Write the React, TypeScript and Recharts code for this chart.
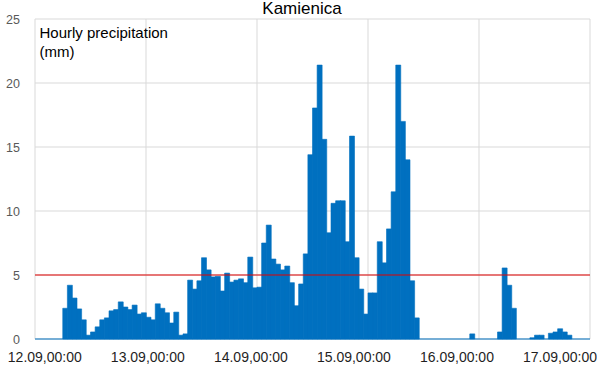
import React from 'react';
import { BarChart, Bar, XAxis, YAxis, CartesianGrid, ReferenceLine } from 'recharts';

// Hourly precipitation (mm), one value per hour starting 12.09 00:00
const precipitation = [
  0, 0, 0, 0, 0, 0, 2.4, 4.2, 3.2, 2.35, 1.5, 0.3,
  0.55, 0.95, 1.5, 1.65, 2.2, 2.3, 2.9, 2.5, 2.3, 2.65, 1.95, 2.05,
  1.7, 1.5, 2.75, 2.4, 2.05, 1.25, 2.1, 0.3, 0.4, 4.6, 3.9, 4.55,
  6.35, 5.4, 4.85, 4.9, 3.75, 5.15, 4.45, 4.6, 4.7, 4.4, 6.4, 4.0,
  4.05, 7.5, 8.9, 6.25, 5.85, 5.4, 5.7, 4.4, 2.6, 4.3, 6.65, 14.4,
  18.05, 21.4, 15.6, 8.3, 10.6, 10.8, 10.8, 7.6, 15.85, 6.35, 3.9, 1.95,
  3.6, 3.6, 7.6, 5.95, 8.6, 11.5, 21.4, 17.0, 14.0, 4.55, 1.65, 0,
  0, 0, 0, 0, 0, 0, 0, 0, 0, 0, 0.4, 0,
  0, 0, 0, 0, 0.55, 5.55, 4.2, 2.4, 0, 0, 0, 0.1,
  0.3, 0.3, 0, 0.45, 0.55, 0.8, 0.55, 0.3, 0, 0, 0, 0,
];

const dayTicks = [0, 24, 48, 72, 96, 120];
const dayLabels = ['12.09,00:00', '13.09,00:00', '14.09,00:00', '15.09,00:00', '16.09,00:00', '17.09,00:00'];
const yTicks = [0, 5, 10, 15, 20, 25];
const threshold = 5;
const chartTitle = 'Kamienica';
const yTitleLines = ['Hourly precipitation', '(mm)'];

const data = precipitation.map((value, i) => ({ hour: i + 0.5, value }));

const XTick = (props: any) => {
  const { x, payload } = props;
  const i = dayTicks.indexOf(payload.value);
  return (
    <text
      x={x + 9.8 - 7.96 * i}
      y={362}
      textAnchor="middle"
      fontFamily="Liberation Sans, Arial, sans-serif"
      fontSize={14}
      fill="#1f1f1f"
    >
      {dayLabels[i]}
    </text>
  );
};

const YTick = (props: any) => {
  const { y, payload } = props;
  return (
    <text
      x={20}
      y={y}
      dy="0.36em"
      textAnchor="end"
      fontFamily="Liberation Sans, Arial, sans-serif"
      fontSize={12.5}
      fill="#595959"
    >
      {payload.value}
    </text>
  );
};

export default function App() {
  return (
    <div style={{ position: 'absolute', left: 0, top: 0, width: 597, height: 368, background: '#fff' }}>
      <BarChart
        width={597}
        height={368}
        data={data}
        margin={{ top: 19, right: 7, bottom: 0, left: 0 }}
        barCategoryGap={0}
        barGap={0}
      >
        <CartesianGrid stroke="#d9d9d9" />
        <XAxis
          type="number"
          dataKey="hour"
          domain={[0, 120]}
          ticks={dayTicks}
          interval={0}
          tick={<XTick />}
          tickLine={false}
          axisLine={{ stroke: '#0070c0' }}
          height={29}
          allowDataOverflow
        />
        <YAxis
          domain={[0, 25]}
          ticks={yTicks}
          interval={0}
          width={35}
          tick={<YTick />}
          tickLine={false}
          axisLine={false}
        />
        <Bar dataKey="value" fill="#0070c0" stroke="#0070c0" strokeWidth={0.6} isAnimationActive={false} />
        <ReferenceLine y={threshold} stroke="#e00000" strokeWidth={1} />
        <text
          x={302}
          y={13.5}
          textAnchor="middle"
          fontFamily="Liberation Sans, Arial, sans-serif"
          fontSize={17}
          fill="#000"
        >
          {chartTitle}
        </text>
        <text x={39.5} y={38} fontFamily="Liberation Sans, Arial, sans-serif" fontSize={15} fill="#000">
          {yTitleLines[0]}
        </text>
        <text x={39.5} y={57} fontFamily="Liberation Sans, Arial, sans-serif" fontSize={15} fill="#000">
          {yTitleLines[1]}
        </text>
      </BarChart>
    </div>
  );
}
